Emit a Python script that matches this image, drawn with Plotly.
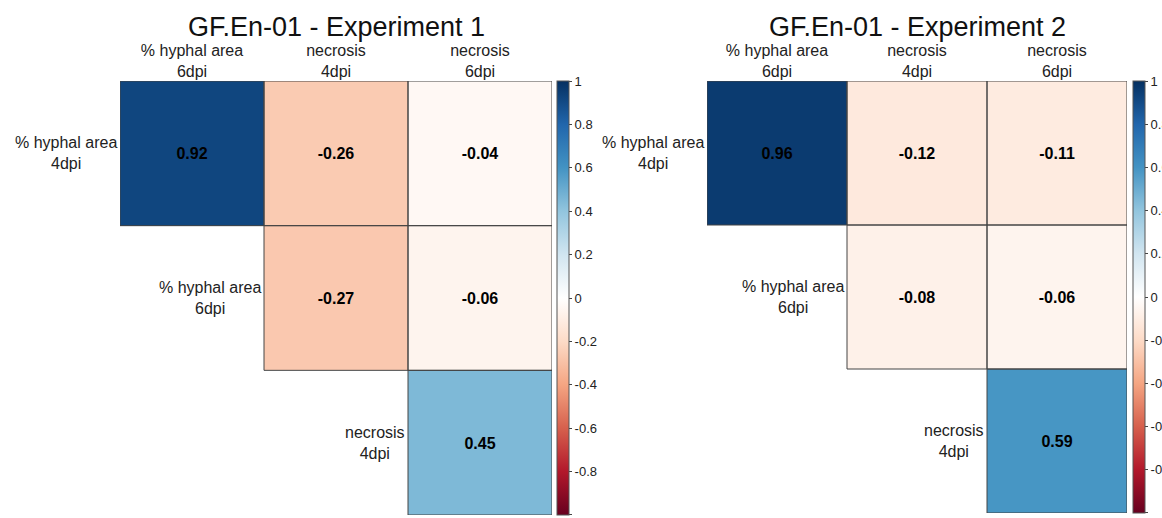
import plotly.graph_objects as go

# ---------------- data ----------------
row_labels = ["% hyphal area<br>4dpi", "% hyphal area<br>6dpi", "necrosis<br>4dpi"]
col_labels = ["% hyphal area<br>6dpi", "necrosis<br>4dpi", "necrosis<br>6dpi"]

titles = ["GF.En-01 - Experiment 1", "GF.En-01 - Experiment 2"]

exp1_values = [[0.92, -0.26, -0.04],
               [None, -0.27, -0.06],
               [None, None, 0.45]]
exp2_values = [[0.96, -0.12, -0.11],
               [None, -0.08, -0.06],
               [None, None, 0.59]]

cbar_ticks = [1, 0.8, 0.6, 0.4, 0.2, 0, -0.2, -0.4, -0.6, -0.8, -0.999]
cbar_ticktext = ["1", "0.8", "0.6", "0.4", "0.2", "0", "-0.2", "-0.4", "-0.6", "-0.8", "-1"]

# ---------------- style ----------------
W, H = 1162, 518
FONT = "Liberation Sans, Arial, Helvetica, sans-serif"
rdbu = ["#67001F", "#B2182B", "#D6604D", "#F4A582", "#FDDBC7", "#FFFFFF",
        "#D1E5F0", "#92C5DE", "#4393C3", "#2166AC", "#053061"]
colorscale = [[i / (len(rdbu) - 1), c] for i, c in enumerate(rdbu)]

panels = [
    dict(values=exp1_values, title=titles[0], x0=120, x1=552, y0=81, y1=515, cbx=557),
    dict(values=exp2_values, title=titles[1], x0=707, x1=1127, y0=81, y1=513, cbx=1133),
]

fig = go.Figure()
layout_axes = {}
annotations = []
shapes = []

for k, p in enumerate(panels, start=1):
    xa = "x" if k == 1 else f"x{k}"
    ya = "y" if k == 1 else f"y{k}"
    vals = p["values"]
    text = [[("" if v is None else f"{v:.2f}") for v in row] for row in vals]
    n = len(row_labels)
    fig.add_trace(go.Heatmap(
        z=vals, x=list(range(n)), y=list(range(n)),
        text=text, texttemplate="%{text}",
        textfont=dict(size=16, color="black", family=FONT, weight="bold"),
        colorscale=colorscale, zmin=-1, zmax=1,
        xaxis=xa, yaxis=ya, hoverongaps=False,
        colorbar=dict(
            x=p["cbx"] / W, xanchor="left", xref="paper",
            y=1 - p["y0"] / H, yanchor="top", yref="paper",
            lenmode="pixels", len=p["y1"] - p["y0"],
            thickness=12, thicknessmode="pixels",
            xpad=0, ypad=0,
            outlinewidth=1, outlinecolor="#555555",
            tickvals=cbar_ticks, ticktext=cbar_ticktext,
            ticks="outside", ticklen=3, tickcolor="#444444",
            tickfont=dict(size=13, color="#222222", family=FONT),
        ),
    ))
    xkey = "xaxis" if k == 1 else f"xaxis{k}"
    ykey = "yaxis" if k == 1 else f"yaxis{k}"
    layout_axes[xkey] = dict(
        domain=[p["x0"] / W, p["x1"] / W], anchor=ya, side="top",
        range=[-0.5, n - 0.5], tickvals=list(range(n)), ticktext=col_labels,
        tickfont=dict(size=16, color="#222222", family=FONT),
        showgrid=False, zeroline=False, showline=False, ticks="", fixedrange=True,
    )
    layout_axes[ykey] = dict(
        domain=[1 - p["y1"] / H, 1 - p["y0"] / H], anchor=xa,
        range=[n - 0.5, -0.5], showticklabels=False,
        showgrid=False, zeroline=False, showline=False, ticks="", fixedrange=True,
    )
    # row labels, to the left of the first filled cell of each row
    for i, lab in enumerate(row_labels):
        first = next(j for j, v in enumerate(vals[i]) if v is not None)
        annotations.append(dict(
            x=first - 0.5, y=i, xref=xa, yref=ya, text=lab, showarrow=False,
            xanchor="right", yanchor="middle", align="center", xshift=-1,
            font=dict(size=16, color="#222222", family=FONT),
        ))
        for j, v in enumerate(vals[i]):
            if v is not None:
                shapes.append(dict(
                    type="rect", xref=xa, yref=ya,
                    x0=j - 0.5, x1=j + 0.5, y0=i - 0.5, y1=i + 0.5,
                    line=dict(color="#444444", width=1), layer="above",
                ))
    # title
    annotations.append(dict(
        x=(p["x0"] + p["x1"]) / 2 / W, y=1 - 27 / H, xref="paper", yref="paper",
        text=p["title"], showarrow=False, xanchor="center", yanchor="middle",
        font=dict(size=27, color="#111111", family=FONT),
    ))

fig.update_layout(
    width=W, height=H,
    margin=dict(l=0, r=0, t=0, b=0, autoexpand=False),
    paper_bgcolor="white", plot_bgcolor="white",
    annotations=annotations, shapes=shapes,
    showlegend=False,
    font=dict(family=FONT),
    **layout_axes,
)

fig.write_html(
    "out.html",
    config={"displayModeBar": False},
    post_script="document.body.style.margin='0';document.body.style.overflow='hidden';",
)
